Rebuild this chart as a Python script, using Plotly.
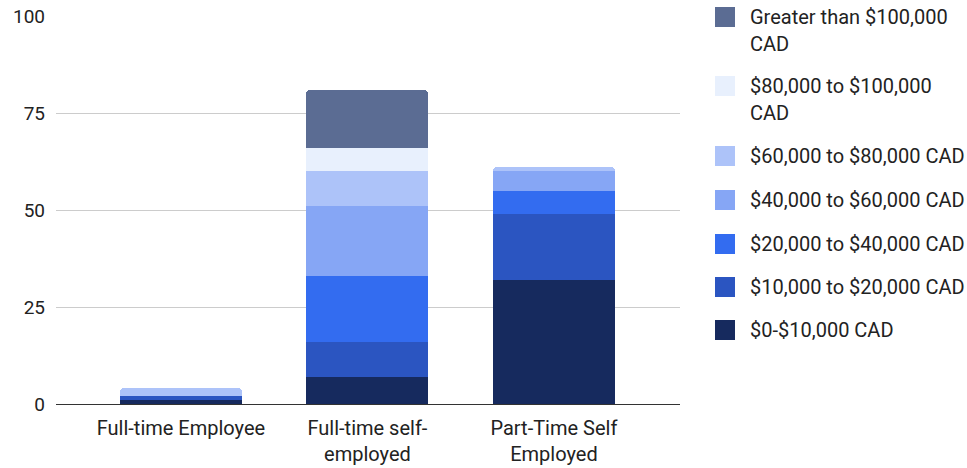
import plotly.graph_objects as go

# Employment categories on the x axis
categories = ["Full-time Employee", "Full-time self-employed", "Part-Time Self Employed"]
category_ticktext = ["Full-time Employee", "Full-time self-<br>employed", "Part-Time Self<br>Employed"]

# Respondent counts per income bracket, one list per bracket (bottom of stack first)
income_0_10k = [1, 7, 32]
income_10_20k = [1, 9, 17]
income_20_40k = [0, 17, 6]
income_40_60k = [0, 18, 5]
income_60_80k = [2, 9, 1]
income_80_100k = [0, 6, 0]
income_over_100k = [0, 15, 0]

series_names = [
    "$0-$10,000 CAD",
    "$10,000 to $20,000 CAD",
    "$20,000 to $40,000 CAD",
    "$40,000 to $60,000 CAD",
    "$60,000 to $80,000 CAD",
    "$80,000 to $100,000 CAD",
    "Greater than $100,000 CAD",
]
series_values = [income_0_10k, income_10_20k, income_20_40k, income_40_60k,
                 income_60_80k, income_80_100k, income_over_100k]
series_colors = ["#162a5e", "#2b55c1", "#336cf0", "#86a6f5", "#adc3f9", "#e8f0fd", "#5b6c93"]

# Legend labels wrapped the way they are shown beside the chart
legend_lines = [
    ["$0-$10,000 CAD"],
    ["$10,000 to $20,000 CAD"],
    ["$20,000 to $40,000 CAD"],
    ["$40,000 to $60,000 CAD"],
    ["$60,000 to $80,000 CAD"],
    ["$80,000 to $100,000", "CAD"],
    ["Greater than $100,000", "CAD"],
]

y_ticks = [0, 25, 50, 75, 100]

FONT = "Roboto, Arial, sans-serif"
TEXT = "#222222"
FS = 20
W, H = 967, 468
L, R, T, B = 56, 287, 16, 64
PLOT_W = W - L - R
PLOT_H = H - T - B

fig = go.Figure()
for name, vals, col in zip(series_names, series_values, series_colors):
    fig.add_trace(go.Bar(
        name=name,
        x=categories,
        y=vals,
        marker=dict(color=col, line=dict(width=0)),
        width=0.654,
        showlegend=False,
        hoverinfo="skip",
    ))


def px_x(x):
    return (x - L) / PLOT_W


def px_y(y):
    return (H - B - y) / PLOT_H


# Hand-placed legend: swatches and labels, top entry first
shapes = []
annotations = []
row_centers = [330, 287, 244, 200, 156, 86, 17]
for lines, col, cy in zip(legend_lines, series_colors, row_centers):
    shapes.append(dict(
        type="rect", xref="paper", yref="paper",
        x0=px_x(715), x1=px_x(735), y0=px_y(cy + 10), y1=px_y(cy - 10),
        fillcolor=col, line=dict(width=0), layer="above",
    ))
    for k, line in enumerate(lines):
        annotations.append(dict(
            xref="paper", yref="paper", x=px_x(748), y=px_y(cy + 27 * k),
            xanchor="left", yanchor="middle", showarrow=False,
            text=line, font=dict(family=FONT, size=FS, color=TEXT),
        ))

fig.update_layout(
    width=W, height=H,
    margin=dict(l=L, r=R, t=T, b=B, pad=0),
    barmode="stack",
    bargap=0,
    barcornerradius=4,
    paper_bgcolor="white",
    plot_bgcolor="white",
    font=dict(family=FONT, size=FS, color=TEXT),
    showlegend=False,
    shapes=shapes,
    annotations=annotations,
    xaxis=dict(
        range=[-0.670, 2.676],
        automargin=False,
        tickmode="array", tickvals=categories, ticktext=category_ticktext,
        showgrid=False, zeroline=False,
        showline=True, linecolor="#333333", linewidth=1,
        ticks="", ticklabelstandoff=6,
        tickfont=dict(family=FONT, size=FS, color=TEXT),
    ),
    yaxis=dict(
        range=[0, 100],
        automargin=False,
        tickmode="array", tickvals=y_ticks,
        showgrid=True, gridcolor="#cccccc", gridwidth=1,
        zeroline=False, showline=False, ticks="",
        ticklabelstandoff=10,
        tickfont=dict(family=FONT, size=FS - 1, color=TEXT),
    ),
)

fig.write_html("out.html")
